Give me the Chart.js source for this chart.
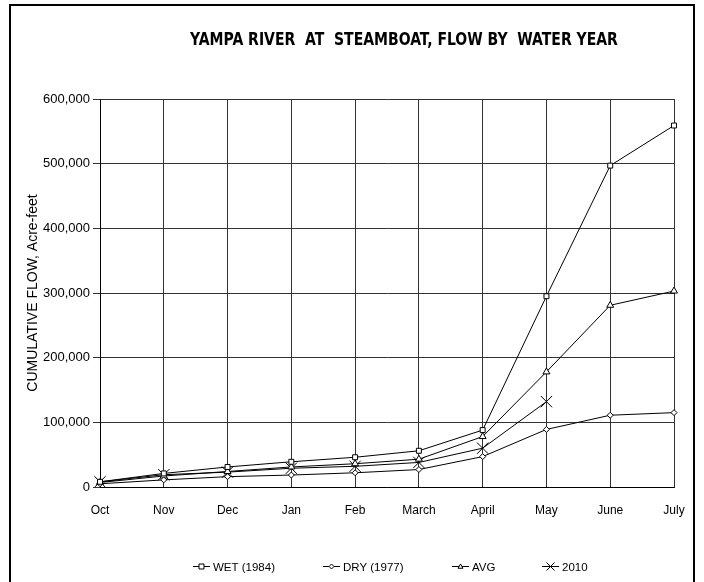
<!DOCTYPE html>
<html>
<head>
<meta charset="utf-8">
<script src="https://cdn.jsdelivr.net/npm/chart.js@4.4.1/dist/chart.umd.min.js"></script>
<style>
  html, body { margin: 0; padding: 0; background: #fff; }
  #wrap { width: 704px; height: 582px; }
</style>
</head>
<body>
<div id="wrap"><canvas id="myChart" width="704" height="582"></canvas></div>
<script>
// months of the water year
const months = ['Oct', 'Nov', 'Dec', 'Jan', 'Feb', 'March', 'April', 'May', 'June', 'July'];

// cumulative flow, acre-feet
const wet1984 = [8000, 21000, 31000, 39000, 46000, 56000, 88000, 295000, 497000, 559000];
const dry1977 = [5000, 11000, 16000, 18500, 22000, 27000, 47000, 89000, 111000, 115000];
const avgFlow = [7000, 17000, 24000, 31000, 36000, 43000, 78000, 178000, 281000, 303000];
const flow2010 = [8000, 19000, 23000, 29000, 32000, 38000, 60000, 132000, null, null];

const yTicks = [0, 100000, 200000, 300000, 400000, 500000, 600000];

const titleText = 'YAMPA RIVER  AT  STEAMBOAT, FLOW BY  WATER YEAR';
const yTitle = 'CUMULATIVE FLOW, Acre-feet';

function drawMarker(ctx, style, x, y, r) {
  ctx.save();
  ctx.strokeStyle = '#000';
  ctx.fillStyle = '#fff';
  ctx.lineWidth = 1;
  ctx.beginPath();
  if (style === 'rect') {
    ctx.rect(x - r, y - r, 2 * r, 2 * r);
    ctx.fill(); ctx.stroke();
  } else if (style === 'rectRot') {
    ctx.moveTo(x, y - r); ctx.lineTo(x + r, y); ctx.lineTo(x, y + r); ctx.lineTo(x - r, y); ctx.closePath();
    ctx.fill(); ctx.stroke();
  } else if (style === 'triangle') {
    ctx.moveTo(x, y - r); ctx.lineTo(x + r, y + r * 0.7); ctx.lineTo(x - r, y + r * 0.7); ctx.closePath();
    ctx.fill(); ctx.stroke();
  } else {
    ctx.moveTo(x - r, y - r); ctx.lineTo(x + r, y + r);
    ctx.moveTo(x + r, y - r); ctx.lineTo(x - r, y + r);
    ctx.stroke();
  }
  ctx.restore();
}

const framePlugin = {
  id: 'frame',
  beforeDraw(chart) {
    const ctx = chart.ctx;
    ctx.save();
    ctx.fillStyle = '#fff';
    ctx.fillRect(0, 0, chart.width, chart.height);
    ctx.strokeStyle = '#000';
    ctx.lineWidth = 2;
    ctx.strokeRect(10, 5, 684, 620);
    ctx.restore();
  },
  afterDraw(chart) {
    const ctx = chart.ctx;
    ctx.save();
    // title, stretched a bit taller like the original
    ctx.fillStyle = '#000';
    ctx.textAlign = 'center';
    ctx.textBaseline = 'middle';
    const fam = '"DejaVu Sans Condensed", "Liberation Sans Narrow", sans-serif';
    ctx.font = 'bold 15px ' + fam;
    const w = ctx.measureText(titleText).width;
    const size = 15 * 428 / w;
    ctx.font = 'bold ' + size.toFixed(2) + 'px ' + fam;
    ctx.save();
    ctx.translate(404, 40);
    ctx.scale(1, 1.18);
    ctx.fillText(titleText, 0, 0);
    ctx.restore();

    // legend
    const legendX = [193, 323, 452, 542];
    const ly = 566;
    ctx.font = '11.5px "Liberation Sans", Arial, sans-serif';
    ctx.textAlign = 'left';
    chart.data.datasets.forEach((ds, i) => {
      const x0 = legendX[i];
      ctx.strokeStyle = '#000';
      ctx.lineWidth = 1;
      ctx.beginPath();
      ctx.moveTo(x0, ly + 0.5);
      ctx.lineTo(x0 + 17, ly + 0.5);
      ctx.stroke();
      drawMarker(ctx, ds.pointStyle, x0 + 8.5, ly + 0.5, ds.pointStyle === 'crossRot' ? 4 : 2.5);
      ctx.fillStyle = '#000';
      ctx.fillText(ds.label, x0 + 20, ly + 2);
    });
    ctx.restore();
  }
};

const ctx = document.getElementById('myChart').getContext('2d');
new Chart(ctx, {
  type: 'line',
  data: {
    labels: months,
    datasets: [
      { label: 'WET (1984)', data: wet1984, pointStyle: 'rect', pointRadius: 3.5 },
      { label: 'DRY (1977)', data: dry1977, pointStyle: 'rectRot', pointRadius: 3 },
      { label: 'AVG', data: avgFlow, pointStyle: 'triangle', pointRadius: 4 },
      { label: '2010', data: flow2010, pointStyle: 'crossRot', pointRadius: 8 }
    ].map(d => Object.assign({
      borderColor: '#000',
      backgroundColor: '#fff',
      pointBorderColor: '#000',
      pointBackgroundColor: '#fff',
      borderWidth: 1,
      pointBorderWidth: 1,
      tension: 0,
      spanGaps: false,
      fill: false
    }, d))
  },
  options: {
    responsive: false,
    animation: false,
    layout: { padding: { left: 12, right: 30, top: 99, bottom: 55 } },
    plugins: {
      legend: { display: false },
      title: { display: false },
      tooltip: { enabled: false }
    },
    scales: {
      x: {
        offset: false,
        grid: { color: '#333', lineWidth: 1, drawTicks: false },
        border: { color: '#000', width: 1 },
        ticks: {
          color: '#000',
          padding: 16,
          maxRotation: 0,
          font: { family: '"Liberation Sans", Arial, sans-serif', size: 12 }
        },
        afterFit(scale) { scale.height = 40; }
      },
      y: {
        min: 0,
        max: 600000,
        afterBuildTicks(scale) { scale.ticks = yTicks.map(v => ({ value: v })); },
        grid: { color: '#333', lineWidth: 1, tickLength: 7 },
        border: { color: '#000', width: 1 },
        ticks: {
          color: '#000',
          padding: 3,
          font: { family: '"Liberation Sans", Arial, sans-serif', size: 13 },
          callback: v => v.toLocaleString('en-US')
        },
        title: {
          display: true,
          text: yTitle,
          color: '#000',
          padding: { top: 13, bottom: 0 },
          font: { family: '"Liberation Sans", Arial, sans-serif', size: 14 }
        },
        afterFit(scale) { scale.width = 88; }
      }
    }
  },
  plugins: [framePlugin]
});
</script>
</body>
</html>
